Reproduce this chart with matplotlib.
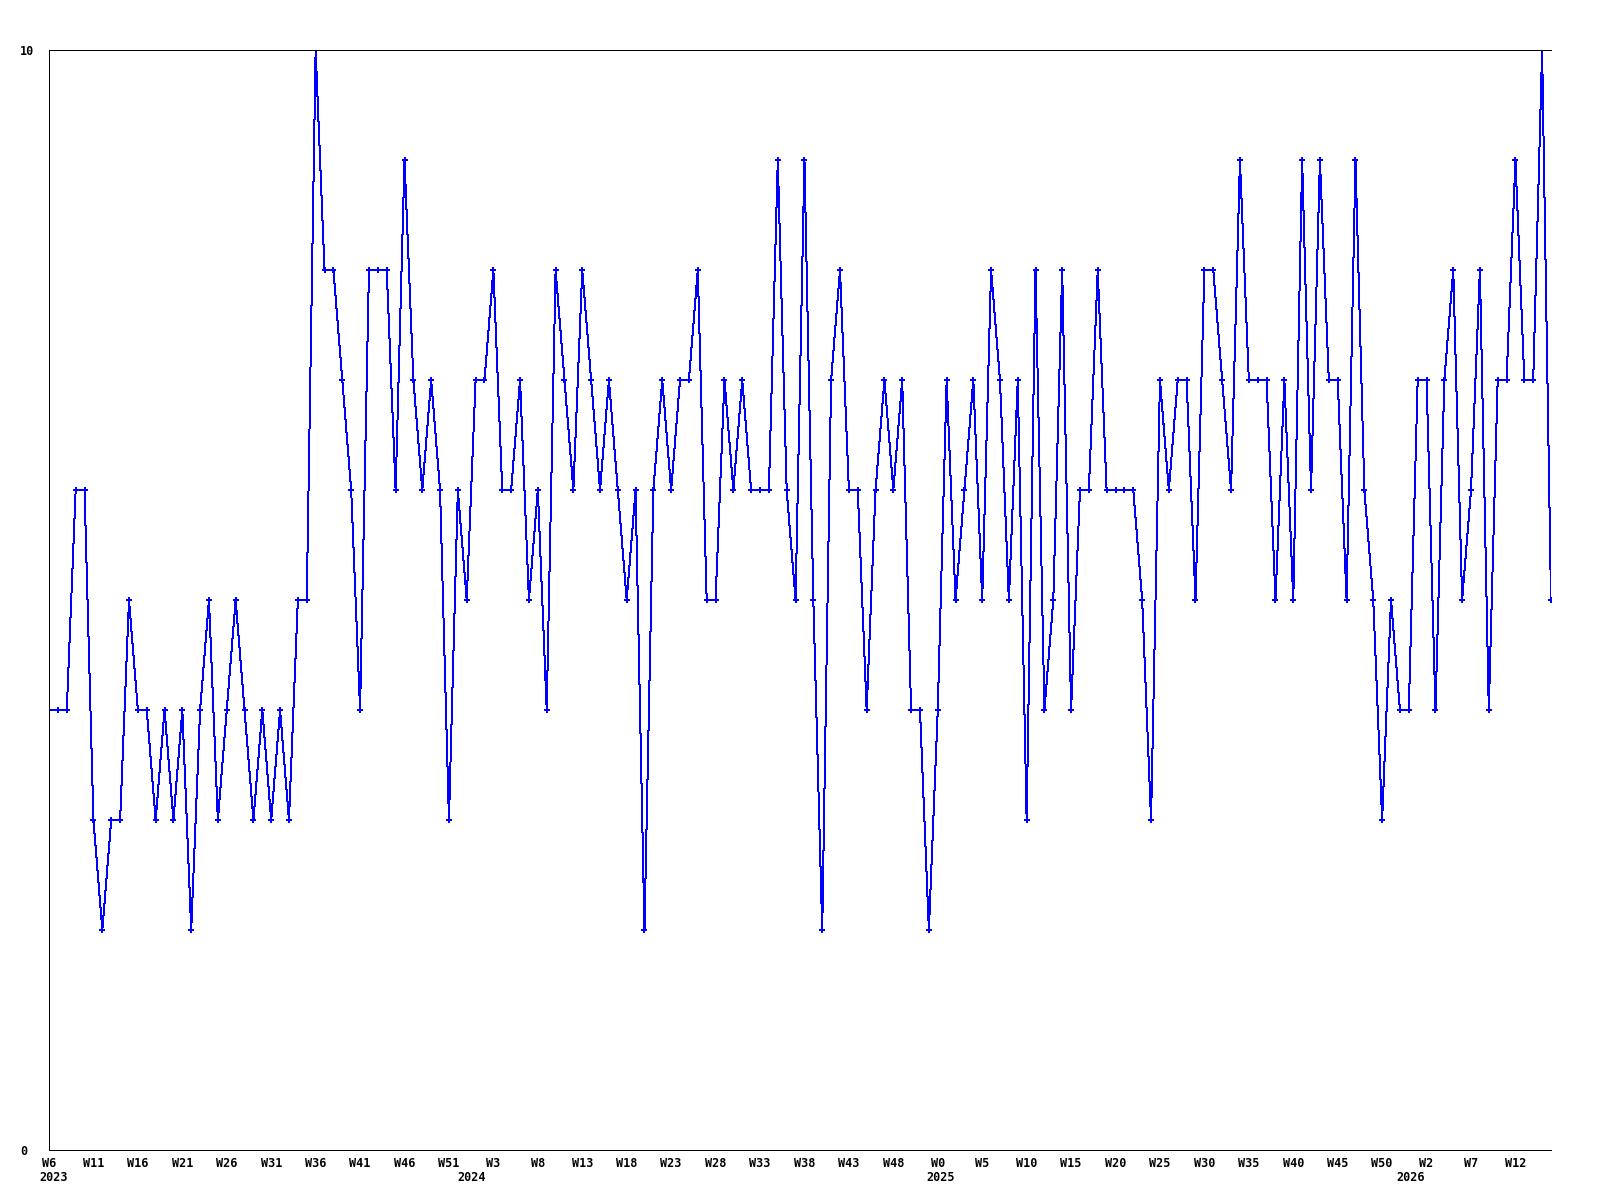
import matplotlib
matplotlib.use('Agg')
import matplotlib.pyplot as plt

# weekly values, one per week starting W6 2023
values = [
    4, 4, 4, 6, 6, 3, 2, 3, 3, 5,
    4, 4, 3, 4, 3, 4, 2, 4, 5, 3,
    4, 5, 4, 3, 4, 3, 4, 3, 5, 5,
    10, 8, 8, 7, 6, 4, 8, 8, 8, 6,
    9, 7, 6, 7, 6, 3, 6, 5, 7, 7,
    8, 6, 6, 7, 5, 6, 4, 8, 7, 6,
    8, 7, 6, 7, 6, 5, 6, 2, 6, 7,
    6, 7, 7, 8, 5, 5, 7, 6, 7, 6,
    6, 6, 9, 6, 5, 9, 5, 2, 7, 8,
    6, 6, 4, 6, 7, 6, 7, 4, 4, 2,
    4, 7, 5, 6, 7, 5, 8, 7, 5, 7,
    3, 8, 4, 5, 8, 4, 6, 6, 8, 6,
    6, 6, 6, 5, 3, 7, 6, 7, 7, 5,
    8, 8, 7, 6, 9, 7, 7, 7, 5, 7,
    5, 9, 6, 9, 7, 7, 5, 9, 6, 5,
    3, 5, 4, 4, 7, 7, 4, 7, 8, 5,
    6, 8, 4, 7, 7, 9, 7, 7, 10, 5,
]

week_labels = ['W6', 'W11', 'W16', 'W21', 'W26', 'W31', 'W36', 'W41', 'W46', 'W51',
               'W3', 'W8', 'W13', 'W18', 'W23', 'W28', 'W33', 'W38', 'W43', 'W48',
               'W0', 'W5', 'W10', 'W15', 'W20', 'W25', 'W30', 'W35', 'W40', 'W45', 'W50',
               'W2', 'W7', 'W12']
year_labels = ['2023', '2024', '2025', '2026']
year_weeks = [0.5, 47.5, 100.3, 153.2]   # where each year label sits (week index)
y_labels = ['0', '10']

font = {'family': 'DejaVu Sans Mono', 'weight': 'bold', 'size': 8.5}

fig = plt.figure(figsize=(16, 12), dpi=100)
ax = fig.add_axes([49 / 1600, 1 - 1150 / 1200, 1502 / 1600, 1100 / 1200])

x = list(range(len(values)))
ax.plot(x, values, color='#0000ff', linewidth=0.72, antialiased=False)
ax.plot(x, values, linestyle='none', color='#0000ff', marker='P', markersize=4.2,
        markeredgewidth=0)

ax.set_xlim(0, len(values) - 1)
ax.set_ylim(0, 10)

ax.spines['right'].set_visible(False)
for s in ['left', 'bottom', 'top']:
    ax.spines[s].set_linewidth(0.72)
    ax.spines[s].set_color('black')

ax.set_yticks([0, 10])
ax.set_yticklabels(y_labels, fontdict=font, ha='left')
ax.tick_params(axis='y', length=0, pad=21)

ax.set_xticks(list(range(0, len(week_labels) * 5, 5)))
ax.set_xticklabels(week_labels, fontdict=font)
ax.set_xticks(year_weeks, minor=True)
ax.set_xticklabels(year_labels, minor=True, fontdict=font)
ax.tick_params(axis='x', which='major', length=0, pad=5)
ax.tick_params(axis='x', which='minor', length=0, pad=15)

fig.savefig('out.png', dpi=100)
